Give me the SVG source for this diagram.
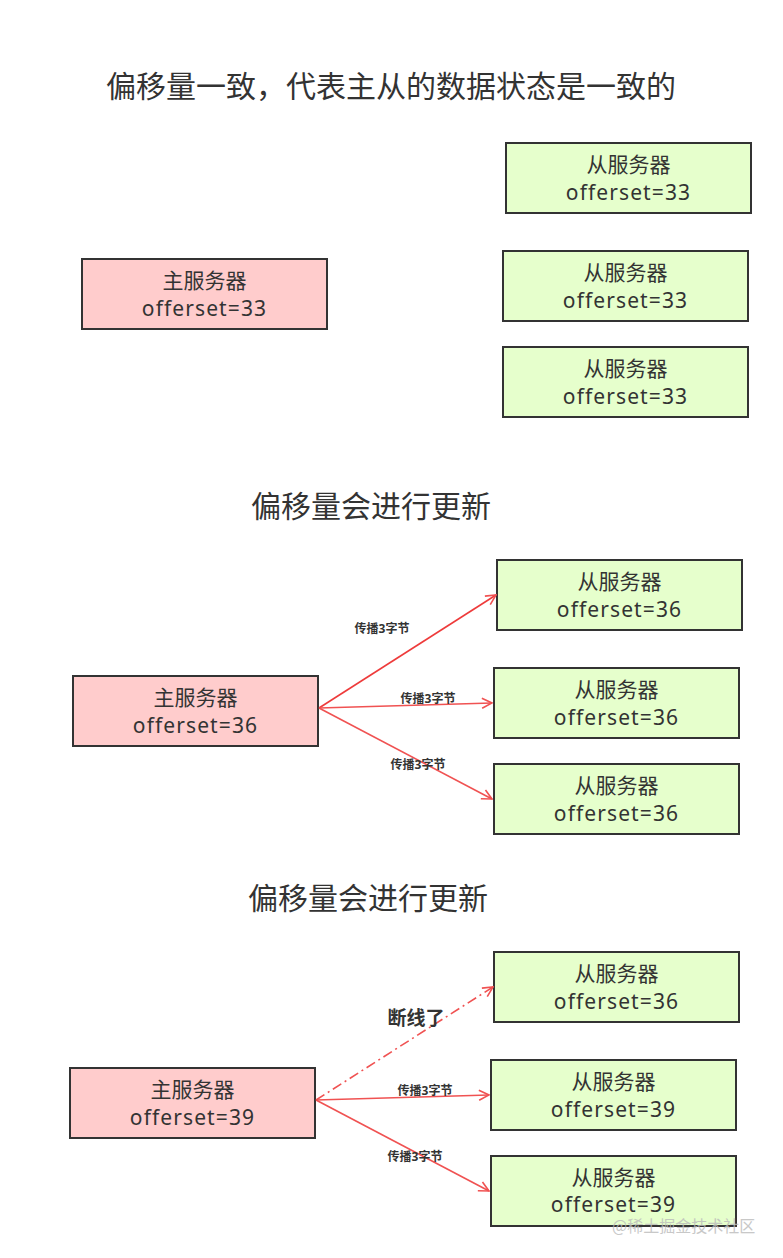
<svg xmlns="http://www.w3.org/2000/svg" width="783" height="1258" viewBox="0 0 783 1258">
<defs>
<style>
.bg{fill:#fff}
.m{fill:#FFCCCC;stroke:#333;stroke-width:2}
.s{fill:#E6FFCC;stroke:#333;stroke-width:2}
.t{font-family:"Noto Sans","Noto Sans CJK SC",sans-serif;fill:#333;text-anchor:middle}
.title{font-size:30px}
.nt{font-size:21px}
.of{font-size:21px;letter-spacing:1.1px}
.lb{font-size:12px;font-weight:bold;fill:#333}
.lb2{font-size:19px;font-weight:bold;fill:#333}
.e{fill:none;stroke:#F05252;stroke-width:1.6}
.e1{stroke:#EE3B3B}
.dd{stroke-dasharray:10 4 2 4}
.wm{font-family:"Noto Sans CJK SC",sans-serif;font-size:16px;fill:#bbb;opacity:0.8}
</style>
<marker id="ah" viewBox="0 0 12 12" refX="11" refY="6" markerWidth="12" markerHeight="12" markerUnits="userSpaceOnUse" orient="auto">
<path d="M1,1 L11,6 L1,11" fill="none" stroke="#F05252" stroke-width="1.6"/>
</marker>
</defs>
<rect class="bg" x="0" y="0" width="783" height="1258"/>

<text class="t title" x="391" y="97">偏移量一致，代表主从的数据状态是一致的</text>
<text class="t title" x="371" y="517">偏移量会进行更新</text>
<text class="t title" x="368" y="909">偏移量会进行更新</text>

<g id="m1"><rect class="m" x="82" y="259" width="245" height="70"/><text class="t nt" x="204.5" y="288">主服务器</text><text class="t of" x="204.5" y="316">offerset=33</text></g>
<g id="s1a"><rect class="s" x="506" y="143" width="245" height="70"/><text class="t nt" x="628.5" y="172">从服务器</text><text class="t of" x="628.5" y="200">offerset=33</text></g>
<g id="s1b"><rect class="s" x="503" y="251" width="245" height="70"/><text class="t nt" x="625.5" y="280">从服务器</text><text class="t of" x="625.5" y="308">offerset=33</text></g>
<g id="s1c"><rect class="s" x="503" y="347" width="245" height="70"/><text class="t nt" x="625.5" y="376">从服务器</text><text class="t of" x="625.5" y="404">offerset=33</text></g>

<g id="m2"><rect class="m" x="73" y="676" width="245" height="70"/><text class="t nt" x="195.5" y="705">主服务器</text><text class="t of" x="195.5" y="733">offerset=36</text></g>
<g id="s2a"><rect class="s" x="497" y="560" width="245" height="70"/><text class="t nt" x="619.5" y="589">从服务器</text><text class="t of" x="619.5" y="617">offerset=36</text></g>
<g id="s2b"><rect class="s" x="494" y="668" width="245" height="70"/><text class="t nt" x="616.5" y="697">从服务器</text><text class="t of" x="616.5" y="725">offerset=36</text></g>
<g id="s2c"><rect class="s" x="494" y="764" width="245" height="70"/><text class="t nt" x="616.5" y="793">从服务器</text><text class="t of" x="616.5" y="821">offerset=36</text></g>

<g id="m3"><rect class="m" x="70" y="1068" width="245" height="70"/><text class="t nt" x="192.5" y="1097">主服务器</text><text class="t of" x="192.5" y="1125">offerset=39</text></g>
<g id="s3a"><rect class="s" x="494" y="952" width="245" height="70"/><text class="t nt" x="616.5" y="981">从服务器</text><text class="t of" x="616.5" y="1009">offerset=36</text></g>
<g id="s3b"><rect class="s" x="491" y="1060" width="245" height="70"/><text class="t nt" x="613.5" y="1089">从服务器</text><text class="t of" x="613.5" y="1117">offerset=39</text></g>
<g id="s3c"><rect class="s" x="491" y="1156" width="245" height="70"/><text class="t nt" x="613.5" y="1185">从服务器</text><text class="t of" x="613.5" y="1212">offerset=39</text></g>

<g id="connectors">
<line class="e e1" x1="319" y1="708" x2="496" y2="595" marker-end="url(#ah)"/>
<line class="e" x1="319" y1="708" x2="492" y2="703" marker-end="url(#ah)"/>
<line class="e" x1="319" y1="708" x2="492" y2="799" marker-end="url(#ah)"/>
<line class="e dd" x1="316" y1="1100" x2="493" y2="987" marker-end="url(#ah)"/>
<line class="e" x1="316" y1="1100" x2="489" y2="1095" marker-end="url(#ah)"/>
<line class="e" x1="316" y1="1100" x2="489" y2="1191" marker-end="url(#ah)"/>
<text class="t lb" x="382" y="633">传播3字节</text>
<text class="t lb" x="428" y="703">传播3字节</text>
<text class="t lb" x="418" y="769">传播3字节</text>
<text class="t lb2" x="416" y="1025">断线了</text>
<text class="t lb" x="425" y="1095">传播3字节</text>
<text class="t lb" x="415" y="1161">传播3字节</text>
</g>
<text class="wm" x="612" y="1232">@稀土掘金技术社区</text>
</svg>
